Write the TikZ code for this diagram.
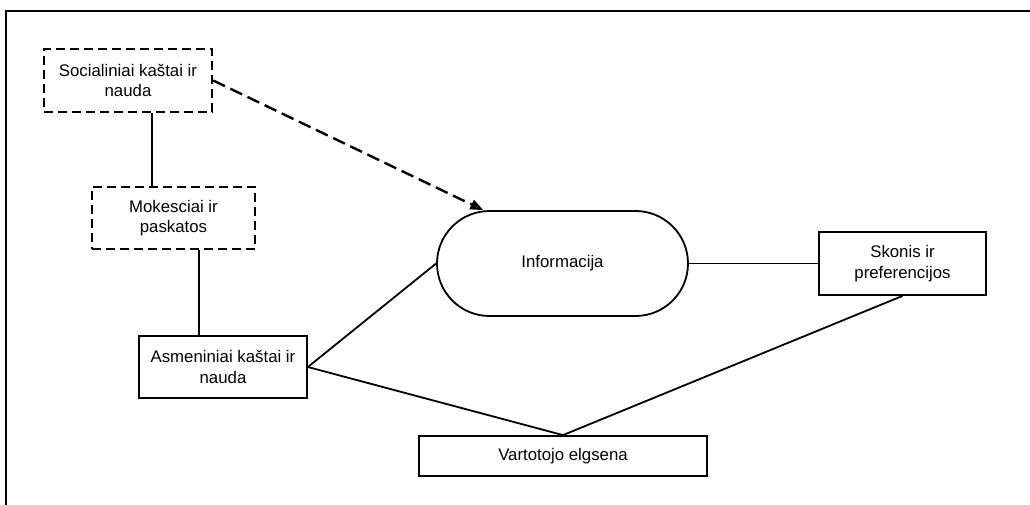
\documentclass[tikz,border=0pt]{standalone}
\usepackage{fontspec}
\setmainfont{Liberation Sans}
\usetikzlibrary{positioning, arrows.meta}
\tikzset{arr/.style={-{Triangle[length=13pt, width=10pt]}}}

\begin{document}
\begin{tikzpicture}[
      x=1pt, y=-1pt,
      every node/.style={draw, align=center, inner sep=0pt, line width=1.8pt,
        font=\fontsize{16.8}{20.5}\selectfont},
      box/.style={rectangle},
      dashbox/.style={rectangle, line width=2.4pt, dash pattern=on 9pt off 5pt},
      pill/.style={rectangle, rounded corners=52.5pt},
      link/.style={draw, line width=1.8pt},
      hint/.style={draw, arr, line width=2.4pt, dash pattern=on 13pt off 6pt},
  ]
      \useasboundingbox (0,0) rectangle (1030,505);

      % Frame (cut at right and bottom)
      \draw[line width=1.8pt] (6,505) -- (6,11) -- (1030,11);

      % Left column: dashed boxes, then personal costs
      \node[dashbox, minimum width=168pt, minimum height=63pt] (social) at (128,80.5) {Socialiniai kaštai ir\\nauda};
      \node[dashbox, minimum width=163pt, minimum height=62pt] (taxes) at (173.5,218) {Mokesciai ir\\paskatos};
      \node[box, minimum width=168pt, minimum height=62pt] (personal) at (223,367) {Asmeniniai kaštai ir\\nauda};

      % Middle and right
      \node[pill, minimum width=251pt, minimum height=105pt] (info) at (562.5,263.5) {Informacija};
      \node[box, minimum width=167pt, minimum height=63pt] (taste) at (902.5,263.5) {Skonis ir\\preferencijos};
      \node[box, minimum width=288pt, minimum height=40pt] (behaviour) at (563,456) {Vartotojo elgsena};

      % Connections
      \draw[link] (social.south -| 152,0) -- (taxes.north -| 152,0);
      \draw[link] (taxes.south -| 199,0) -- (personal.north -| 199,0);
      \draw[link] (personal.east) -- (info.west);
      \draw[link] (personal.east) -- (behaviour.north);
      \draw[link] (info.east) -- (taste.west);
      \draw[link] (taste.south) -- (behaviour.north);

      % Dashed influence arrow
      \draw[hint] (social.east) -- (info.146);

\end{tikzpicture}
\end{document}
